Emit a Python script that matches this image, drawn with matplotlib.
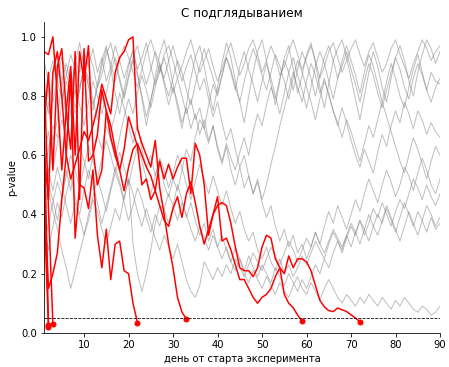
import matplotlib
matplotlib.use('Agg')
import matplotlib.pyplot as plt
import numpy as np

# p-value series per experiment (day 1, 2, ...)
# gray: never crossed 0.05, red: stopped when p < 0.05
gray_1 = [0.55,0.62,0.70,0.66,0.78,0.85,0.80,0.92,0.88,0.95,
          0.90,0.96,0.88,0.93,0.85,0.90,0.97,0.92,0.86,0.91,
          0.95,0.89,0.93,0.98,0.90,0.84,0.88,0.94,0.97,0.92,
          0.86,0.90,0.95,0.99,0.93,0.88,0.92,0.96,0.90,0.85,
          0.89,0.94,0.98,0.92,0.87,0.91,0.96,0.99,0.94,0.88,
          0.92,0.97,0.93,0.87,0.90,0.95,0.99,0.94,0.89,0.93,
          0.97,0.92,0.86,0.90,0.95,0.98,0.93,0.88,0.92,0.96,
          0.99,0.94,0.90,0.95,0.98,0.93,0.88,0.91,0.96,0.99,
          0.94,0.90,0.86,0.91,0.95,0.99,0.96,0.92,0.95,0.97]
gray_2 = [0.82,0.74,0.88,0.95,0.86,0.72,0.80,0.91,0.98,0.90,
          0.83,0.75,0.84,0.92,0.97,0.89,0.81,0.74,0.82,0.90,
          0.96,0.88,0.79,0.70,0.78,0.87,0.94,0.99,0.92,0.84,
          0.76,0.69,0.77,0.86,0.93,0.97,0.90,0.82,0.75,0.83,
          0.91,0.98,0.93,0.85,0.78,0.71,0.80,0.88,0.95,0.99,
          0.92,0.84,0.77,0.85,0.93,0.97,0.89,0.81,0.87,0.94,
          0.98,0.91,0.83,0.76,0.84,0.92,0.96,0.99,0.93,0.86,
          0.79,0.72,0.80,0.88,0.95,0.90,0.83,0.78,0.86,0.93,
          0.97,0.92,0.85,0.80,0.88,0.94,0.99,0.96,0.91,0.95]
gray_3 = [0.70,0.78,0.65,0.72,0.85,0.91,0.84,0.76,0.82,0.90,
          0.86,0.79,0.72,0.80,0.75,0.68,0.74,0.81,0.76,0.70,
          0.64,0.70,0.62,0.56,0.60,0.53,0.58,0.50,0.46,0.52,
          0.48,0.55,0.62,0.58,0.66,0.72,0.69,0.77,0.84,0.80,
          0.87,0.93,0.88,0.82,0.90,0.95,0.89,0.84,0.78,0.85,
          0.91,0.86,0.80,0.74,0.81,0.88,0.93,0.87,0.82,0.76,
          0.83,0.90,0.95,0.91,0.85,0.79,0.86,0.92,0.97,0.92,
          0.87,0.81,0.88,0.94,0.90,0.84,0.78,0.85,0.91,0.86,
          0.80,0.76,0.83,0.89,0.94,0.88,0.82,0.78,0.83,0.86]
gray_4 = [0.92,0.85,0.78,0.86,0.93,0.88,0.81,0.74,0.82,0.89,
          0.95,0.90,0.83,0.87,0.94,0.98,0.91,0.85,0.79,0.86,
          0.92,0.87,0.80,0.73,0.79,0.85,0.91,0.84,0.77,0.83,
          0.78,0.71,0.76,0.69,0.74,0.67,0.72,0.65,0.70,0.63,
          0.58,0.64,0.59,0.55,0.61,0.66,0.60,0.68,0.74,0.70,
          0.77,0.83,0.79,0.86,0.92,0.88,0.82,0.89,0.95,0.91,
          0.86,0.80,0.87,0.93,0.97,0.92,0.86,0.90,0.95,0.89,
          0.84,0.78,0.85,0.91,0.87,0.81,0.76,0.82,0.88,0.93,
          0.89,0.83,0.79,0.86,0.91,0.87,0.82,0.88,0.85,0.84]
gray_5 = [0.60,0.68,0.55,0.64,0.72,0.66,0.75,0.82,0.77,0.70,
          0.78,0.85,0.80,0.74,0.81,0.88,0.93,0.86,0.80,0.87,
          0.93,0.97,0.90,0.84,0.89,0.95,0.91,0.85,0.80,0.86,
          0.92,0.88,0.82,0.77,0.84,0.90,0.96,0.91,0.86,0.81,
          0.87,0.93,0.89,0.83,0.78,0.85,0.91,0.96,0.92,0.87,
          0.82,0.88,0.94,0.90,0.85,0.79,0.86,0.92,0.88,0.83,
          0.78,0.72,0.79,0.85,0.81,0.75,0.70,0.76,0.71,0.65,
          0.60,0.56,0.62,0.58,0.54,0.61,0.67,0.63,0.70,0.75,
          0.71,0.78,0.74,0.69,0.75,0.72,0.67,0.71,0.68,0.66]
gray_6 = [0.78,0.86,0.92,0.85,0.79,0.87,0.94,0.89,0.83,0.90,
          0.84,0.77,0.83,0.90,0.96,0.91,0.85,0.92,0.97,0.93,
          0.88,0.83,0.89,0.95,0.99,0.94,0.88,0.93,0.87,0.81,
          0.86,0.80,0.74,0.79,0.72,0.76,0.69,0.64,0.70,0.62,
          0.57,0.63,0.55,0.50,0.56,0.49,0.53,0.47,0.52,0.45,
          0.50,0.57,0.63,0.70,0.76,0.82,0.88,0.83,0.78,0.85,
          0.91,0.87,0.81,0.86,0.80,0.75,0.71,0.66,0.72,0.68,
          0.63,0.58,0.64,0.70,0.66,0.72,0.78,0.73,0.68,0.63,
          0.58,0.54,0.60,0.66,0.62,0.57,0.52,0.58,0.63,0.60]
gray_7 = [0.42,0.50,0.45,0.38,0.46,0.55,0.48,0.57,0.63,0.58,
          0.52,0.60,0.67,0.62,0.70,0.65,0.59,0.66,0.73,0.79,
          0.74,0.81,0.87,0.82,0.76,0.83,0.90,0.86,0.92,0.97,
          0.91,0.85,0.90,0.94,0.88,0.82,0.86,0.79,0.73,0.78,
          0.71,0.65,0.69,0.62,0.56,0.60,0.53,0.47,0.51,0.44,
          0.39,0.43,0.36,0.31,0.35,0.29,0.33,0.27,0.30,0.25,
          0.29,0.34,0.30,0.36,0.41,0.37,0.43,0.39,0.35,0.40,
          0.45,0.41,0.47,0.52,0.48,0.44,0.50,0.55,0.51,0.46,
          0.50,0.56,0.53,0.48,0.54,0.59,0.55,0.50,0.47,0.52]
gray_8 = [0.35,0.28,0.36,0.44,0.39,0.47,0.53,0.46,0.40,0.48,
          0.55,0.50,0.44,0.37,0.43,0.49,0.56,0.51,0.45,0.52,
          0.30,0.20,0.14,0.20,0.28,0.37,0.43,0.42,0.37,0.43,
          0.50,0.45,0.39,0.44,0.38,0.33,0.37,0.31,0.35,0.29,
          0.33,0.28,0.24,0.29,0.25,0.21,0.26,0.22,0.19,0.23,
          0.20,0.17,0.22,0.19,0.16,0.20,0.17,0.14,0.18,0.15,
          0.19,0.23,0.20,0.25,0.22,0.27,0.31,0.28,0.33,0.29,
          0.34,0.38,0.33,0.37,0.42,0.39,0.44,0.40,0.36,0.41,
          0.45,0.42,0.47,0.52,0.49,0.45,0.50,0.46,0.43,0.47]
gray_9 = [0.62,0.55,0.48,0.56,0.50,0.43,0.37,0.44,0.39,0.33,
          0.38,0.45,0.41,0.35,0.30,0.36,0.42,0.38,0.46,0.52,
          0.47,0.41,0.36,0.42,0.37,0.32,0.28,0.33,0.29,0.25,
          0.30,0.24,0.18,0.14,0.12,0.16,0.24,0.21,0.18,0.22,
          0.19,0.23,0.20,0.25,0.22,0.19,0.23,0.27,0.24,0.21,
          0.25,0.29,0.26,0.23,0.27,0.31,0.28,0.24,0.28,0.32,
          0.29,0.34,0.30,0.27,0.31,0.35,0.32,0.29,0.33,0.37,
          0.34,0.30,0.35,0.40,0.36,0.33,0.38,0.43,0.39,0.35,
          0.31,0.36,0.41,0.37,0.33,0.38,0.43,0.40,0.36,0.39]
gray_10 = [0.30,0.37,0.44,0.51,0.46,0.53,0.60,0.55,0.49,0.56,
           0.63,0.58,0.52,0.59,0.65,0.60,0.54,0.61,0.56,0.50,
           0.57,0.63,0.58,0.52,0.47,0.53,0.59,0.55,0.49,0.54,
           0.60,0.56,0.50,0.45,0.51,0.57,0.52,0.47,0.53,0.48,
           0.43,0.48,0.42,0.37,0.41,0.35,0.31,0.34,0.28,0.25,
           0.29,0.24,0.21,0.25,0.20,0.23,0.19,0.22,0.26,0.23,
           0.27,0.31,0.28,0.25,0.30,0.34,0.31,0.27,0.32,0.36,
           0.33,0.38,0.35,0.31,0.36,0.40,0.37,0.42,0.38,0.34,
           0.39,0.44,0.40,0.36,0.41,0.38,0.34,0.39,0.35,0.37]
gray_11 = [0.55,0.48,0.41,0.35,0.28,0.22,0.15,0.21,0.27,0.33,
           0.40,0.46,0.52,0.47,0.41,0.48,0.54,0.50,0.44,0.38,
           0.43,0.49,0.45,0.39,0.34,0.40,0.36,0.42,0.47,0.43,
           0.38,0.44,0.40,0.35,0.31,0.36,0.32,0.28,0.33,0.29,
           0.25,0.29,0.24,0.21,0.25,0.20,0.17,0.21,0.18,0.15,
           0.19,0.16,0.13,0.17,0.14,0.12,0.16,0.19,0.15,0.13,
           0.17,0.14,0.11,0.15,0.18,0.15,0.12,0.10,0.13,0.11,
           0.09,0.12,0.10,0.13,0.11,0.09,0.12,0.10,0.08,0.11,
           0.09,0.12,0.10,0.08,0.07,0.09,0.08,0.06,0.07,0.09]

red_d2a = [0.43, 0.02]
red_d2b = [0.72, 0.025]
red_d3 = [0.89, 0.42, 0.03]
red_d22 = [0.50,0.15,0.20,0.27,0.45,0.60,0.88,0.32,0.50,0.49,
           0.42,0.55,0.33,0.22,0.35,0.18,0.30,0.31,0.21,0.20,
           0.10,0.035]
red_d33 = [0.62,0.45,0.88,0.95,0.80,0.60,0.52,0.57,0.62,0.68,
           0.65,0.70,0.76,0.84,0.79,0.74,0.88,0.93,0.95,0.99,
           1.00,0.69,0.64,0.60,0.56,0.65,0.49,0.40,0.30,0.22,
           0.12,0.07,0.047]
red_d59 = [0.95,0.94,1.00,0.80,0.55,0.75,0.90,0.60,0.95,0.85,
           0.97,0.62,0.50,0.55,0.75,0.70,0.62,0.55,0.62,0.73,
           0.68,0.63,0.50,0.52,0.45,0.48,0.43,0.38,0.36,0.42,
           0.46,0.39,0.47,0.51,0.44,0.36,0.30,0.35,0.40,0.43,
           0.44,0.43,0.37,0.29,0.22,0.21,0.21,0.19,0.22,0.29,
           0.33,0.32,0.25,0.22,0.13,0.10,0.085,0.06,0.04]
red_d72 = [0.70,0.88,0.55,0.90,0.96,0.75,0.62,0.95,0.45,0.96,
           0.58,0.60,0.67,0.82,0.75,0.66,0.60,0.55,0.48,0.56,
           0.62,0.64,0.60,0.56,0.53,0.48,0.58,0.52,0.57,0.52,
           0.56,0.59,0.59,0.47,0.64,0.60,0.50,0.33,0.40,0.46,
           0.31,0.32,0.28,0.23,0.18,0.18,0.15,0.12,0.10,0.12,
           0.13,0.15,0.19,0.22,0.20,0.26,0.22,0.25,0.25,0.24,
           0.21,0.16,0.11,0.088,0.075,0.072,0.084,0.078,0.072,0.061,
           0.05,0.038]

gray_runs = [gray_1, gray_2, gray_3, gray_4, gray_5, gray_6,
             gray_7, gray_8, gray_9, gray_10, gray_11]
red_runs = [red_d2a, red_d2b, red_d3, red_d22, red_d33, red_d59, red_d72]
alpha_level = 0.05

fig, ax = plt.subplots(figsize=(449/72, 367/72), dpi=72)
plt.subplots_adjust(left=0.098, right=0.98, top=0.94, bottom=0.093)

for run in gray_runs:
    days = np.arange(1, len(run) + 1)
    ax.plot(days, run, color='gray', alpha=0.5, lw=1)

for run in red_runs:
    days = np.arange(1, len(run) + 1)
    ax.plot(days, run, color='red', lw=1.5)
    ax.plot(days[-1], run[-1], 'o', color='red', ms=5)

ax.axhline(alpha_level, color='black', linestyle='--', lw=0.8)
ax.set_xlim(1, 90)
ax.set_ylim(0, 1.05)
ax.spines['top'].set_visible(False)
ax.spines['right'].set_visible(False)
ax.set_title('С подглядыванием')
ax.set_xlabel('день от старта эксперимента')
ax.set_ylabel('p-value')

plt.savefig('out.png', dpi=72)
